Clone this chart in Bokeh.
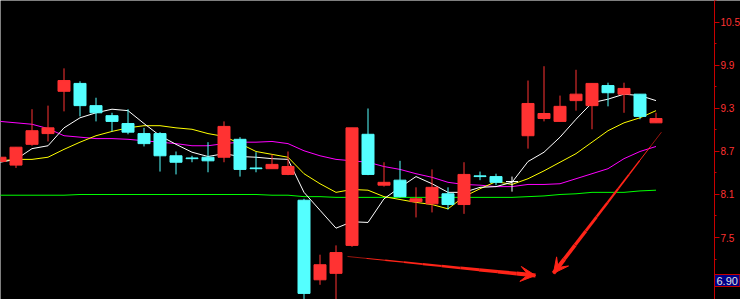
import numpy as np
from bokeh.plotting import figure
from bokeh.models import Range1d, FixedTicker, Label, Arrow, VeeHead, ColumnDataSource
from bokeh.embed import file_html
from bokeh.resources import INLINE

# ---- data ----
opens  = [8.56, 8.51, 8.80, 8.95, 9.54, 9.65, 9.34, 9.20, 9.09, 8.95,
          8.95, 8.64, 8.61, 8.62, 8.62, 8.87, 8.47, 8.46, 8.38, 8.02,
          6.91, 7.00, 7.39, 8.94, 8.23, 8.30, 8.00, 7.97, 8.11, 7.96,
          8.36, 8.35, 8.28, 8.92, 9.16, 9.12, 9.41, 9.34, 9.62, 9.50,
          9.50, 9.10]
closes = [8.62, 8.76, 8.99, 9.03, 9.69, 9.34, 9.24, 9.12, 8.97, 8.81,
          8.64, 8.55, 8.60, 8.57, 9.05, 8.45, 8.46, 8.52, 8.49, 6.72,
          7.12, 7.29, 9.03, 8.38, 8.27, 8.07, 8.04, 8.20, 7.96, 8.38,
          8.35, 8.27, 8.28, 9.37, 9.23, 9.33, 9.50, 9.65, 9.52, 9.58,
          9.19, 9.16]
highs  = [8.62, 8.76, 9.29, 9.34, 9.86, 9.68, 9.45, 9.24, 9.29, 9.03,
          8.97, 8.70, 8.64, 8.83, 9.12, 8.90, 8.69, 8.66, 8.70, 8.04,
          7.26, 7.39, 9.03, 9.30, 8.55, 8.57, 8.20, 8.45, 8.20, 8.55,
          8.42, 8.39, 8.35, 9.69, 9.89, 9.48, 9.84, 9.65, 9.66, 9.66,
          9.50, 9.24]
lows   = [8.56, 8.47, 8.78, 8.84, 9.26, 9.19, 9.12, 8.98, 8.94, 8.77,
          8.42, 8.38, 8.55, 8.41, 8.55, 8.35, 8.41, 8.46, 8.37, 6.62,
          6.84, 6.60, 7.37, 8.37, 8.21, 8.06, 7.78, 7.85, 7.89, 7.83,
          8.30, 8.23, 8.14, 8.74, 9.12, 9.12, 9.27, 9.01, 9.33, 9.24,
          9.15, 9.10]
ma5  = [8.55, 8.59, 8.74, 8.78, 9.03, 9.17, 9.24, 9.29, 9.27, 9.09,
        8.92, 8.80, 8.69, 8.63, 8.67, 8.63, 8.62, 8.60, 8.59, 8.13,
        7.88, 7.63, 7.72, 7.71, 8.04, 8.20, 8.35, 8.25, 8.13, 8.13,
        8.20, 8.21, 8.27, 8.56, 8.69, 8.90, 9.15, 9.38, 9.43, 9.50,
        9.48, 9.41]
ma10 = [8.57, 8.59, 8.59, 8.62, 8.73, 8.83, 8.92, 8.98, 9.03, 9.06,
        9.06, 9.03, 9.01, 8.95, 8.91, 8.81, 8.70, 8.66, 8.62, 8.39,
        8.25, 8.13, 8.17, 8.16, 8.07, 8.03, 7.99, 7.96, 7.90, 8.07,
        8.18, 8.28, 8.24, 8.32, 8.43, 8.55, 8.67, 8.83, 8.99, 9.10,
        9.17, 9.27]
ma20 = [9.12, 9.10, 9.08, 9.02, 8.92, 8.90, 8.88, 8.88, 8.87, 8.85,
        8.83, 8.81, 8.78, 8.78, 8.81, 8.83, 8.83, 8.84, 8.81, 8.71,
        8.64, 8.59, 8.57, 8.55, 8.49, 8.45, 8.39, 8.34, 8.27, 8.24,
        8.23, 8.21, 8.21, 8.24, 8.24, 8.25, 8.32, 8.39, 8.46, 8.60,
        8.70, 8.77]
ma60 = [8.09, 8.09, 8.09, 8.09, 8.09, 8.10, 8.10, 8.10, 8.10, 8.10,
        8.10, 8.10, 8.10, 8.10, 8.10, 8.10, 8.10, 8.09, 8.09, 8.07,
        8.07, 8.06, 8.06, 8.06, 8.06, 8.06, 8.06, 8.06, 8.06, 8.06,
        8.06, 8.06, 8.06, 8.07, 8.08, 8.10, 8.11, 8.13, 8.13, 8.13,
        8.15, 8.16]
y_ticks = [7.5, 8.1, 8.7, 9.3, 9.9, 10.5]
y_minor = [6.9, 7.2, 7.8, 8.4, 9.0, 9.6, 10.2, 10.8]
y_tick_labels = ["7.5", "8.1", "8.7", "9.3", "9.9", "10.5"]
cursor_price = 6.90
arrow_starts = [(21.72, 7.235), (41.34, 8.97)]
arrow_ends = [(33.47, 6.97), (34.59, 7.00)]

# ---- styles ----
RED = "#FF3232"
CYAN = "#54FFFF"
ARROW_RED = "#FF2418"
AXIS_RED = "#C80000"

n = len(opens)
idx = np.arange(n)
colors = [RED if c > o else (CYAN if c < o else "#FFFFFF") for o, c in zip(opens, closes)]
src = ColumnDataSource(dict(
    x=idx, o=opens, c=closes, h=highs, l=lows,
    top=np.maximum(opens, closes), bot=np.minimum(opens, closes), col=colors))

W = 740
PX = 16.0                      # pixels per bar
x0 = 0.5 / PX
x1 = (W + 0.5) / PX
axis_x = (714 + 0.5) / PX      # where the price axis sits
ylo = 7.5 - 62 / 71.67
yhi = 7.5 + 237 / 71.67

p = figure(width=W, height=299, output_backend="svg", toolbar_location=None,
           x_range=Range1d(x0, x1), y_range=Range1d(ylo, yhi),
           y_axis_location="right", background_fill_color="black",
           border_fill_color="black", outline_line_color=None,
           min_border_left=0, min_border_top=0, min_border_bottom=0, min_border_right=0)
p.xaxis.visible = False
p.xgrid.visible = False
p.ygrid.visible = False

# moving averages
p.line(idx, ma60, color="#00FF00", line_width=1)
p.line(idx, ma20, color="#FF00FF", line_width=1)
p.line(idx, ma10, color="#FFFF00", line_width=1)
p.line(idx, ma5, color="#FFFFFF", line_width=1)

# candles
p.segment(x0="x", y0="h", x1="x", y1="l", color="col", line_width=1, source=src)
p.vbar(x="x", top="top", bottom="bot", width=0.75, fill_color="col",
       line_color="col", line_width=1, source=src)

# arrows (tapered shaft + head)
for (xs, ys), (xe, ye) in zip(arrow_starts, arrow_ends):
    k = 10
    t = np.linspace(0, 1, k + 1)
    xx = xs + (xe - xs) * t
    yy = ys + (ye - ys) * t
    p.segment(xx[:-1], yy[:-1], xx[1:], yy[1:], color=ARROW_RED,
              line_width=list(np.linspace(0.6, 4.0, k)))
    p.add_layout(Arrow(x_start=xs + (xe - xs) * 0.9, y_start=ys + (ye - ys) * 0.9,
                       x_end=xe, y_end=ye, line_color=ARROW_RED, line_width=3,
                       end=VeeHead(size=15, fill_color=ARROW_RED, line_color=ARROW_RED)))

# right price axis, pinned at a fixed x so that the frame uses the full width
ax = p.yaxis[0]
ax.fixed_location = axis_x
ax.ticker = FixedTicker(ticks=y_ticks, minor_ticks=y_minor)
ax.major_label_overrides = {t: s for t, s in zip(y_ticks, y_tick_labels)}
ax.axis_line_color = AXIS_RED
ax.major_tick_line_color = AXIS_RED
ax.minor_tick_line_color = AXIS_RED
ax.major_tick_in = 0
ax.major_tick_out = 5
ax.minor_tick_in = 0
ax.minor_tick_out = 2
ax.major_label_standoff = 1
ax.major_label_text_color = "#FF3232"
ax.major_label_text_font = "Liberation Sans"
ax.major_label_text_font_size = "10px"

p.add_layout(Label(x=axis_x, y=cursor_price, text=f"{cursor_price:.2f}",
                   text_color="#E0E0E0", text_font="Liberation Sans",
                   text_font_size="11px", text_baseline="middle", text_align="left",
                   background_fill_color="#000088", border_line_color=AXIS_RED,
                   padding=2, x_offset=0))

open("out.html", "w").write(file_html(p, INLINE))
